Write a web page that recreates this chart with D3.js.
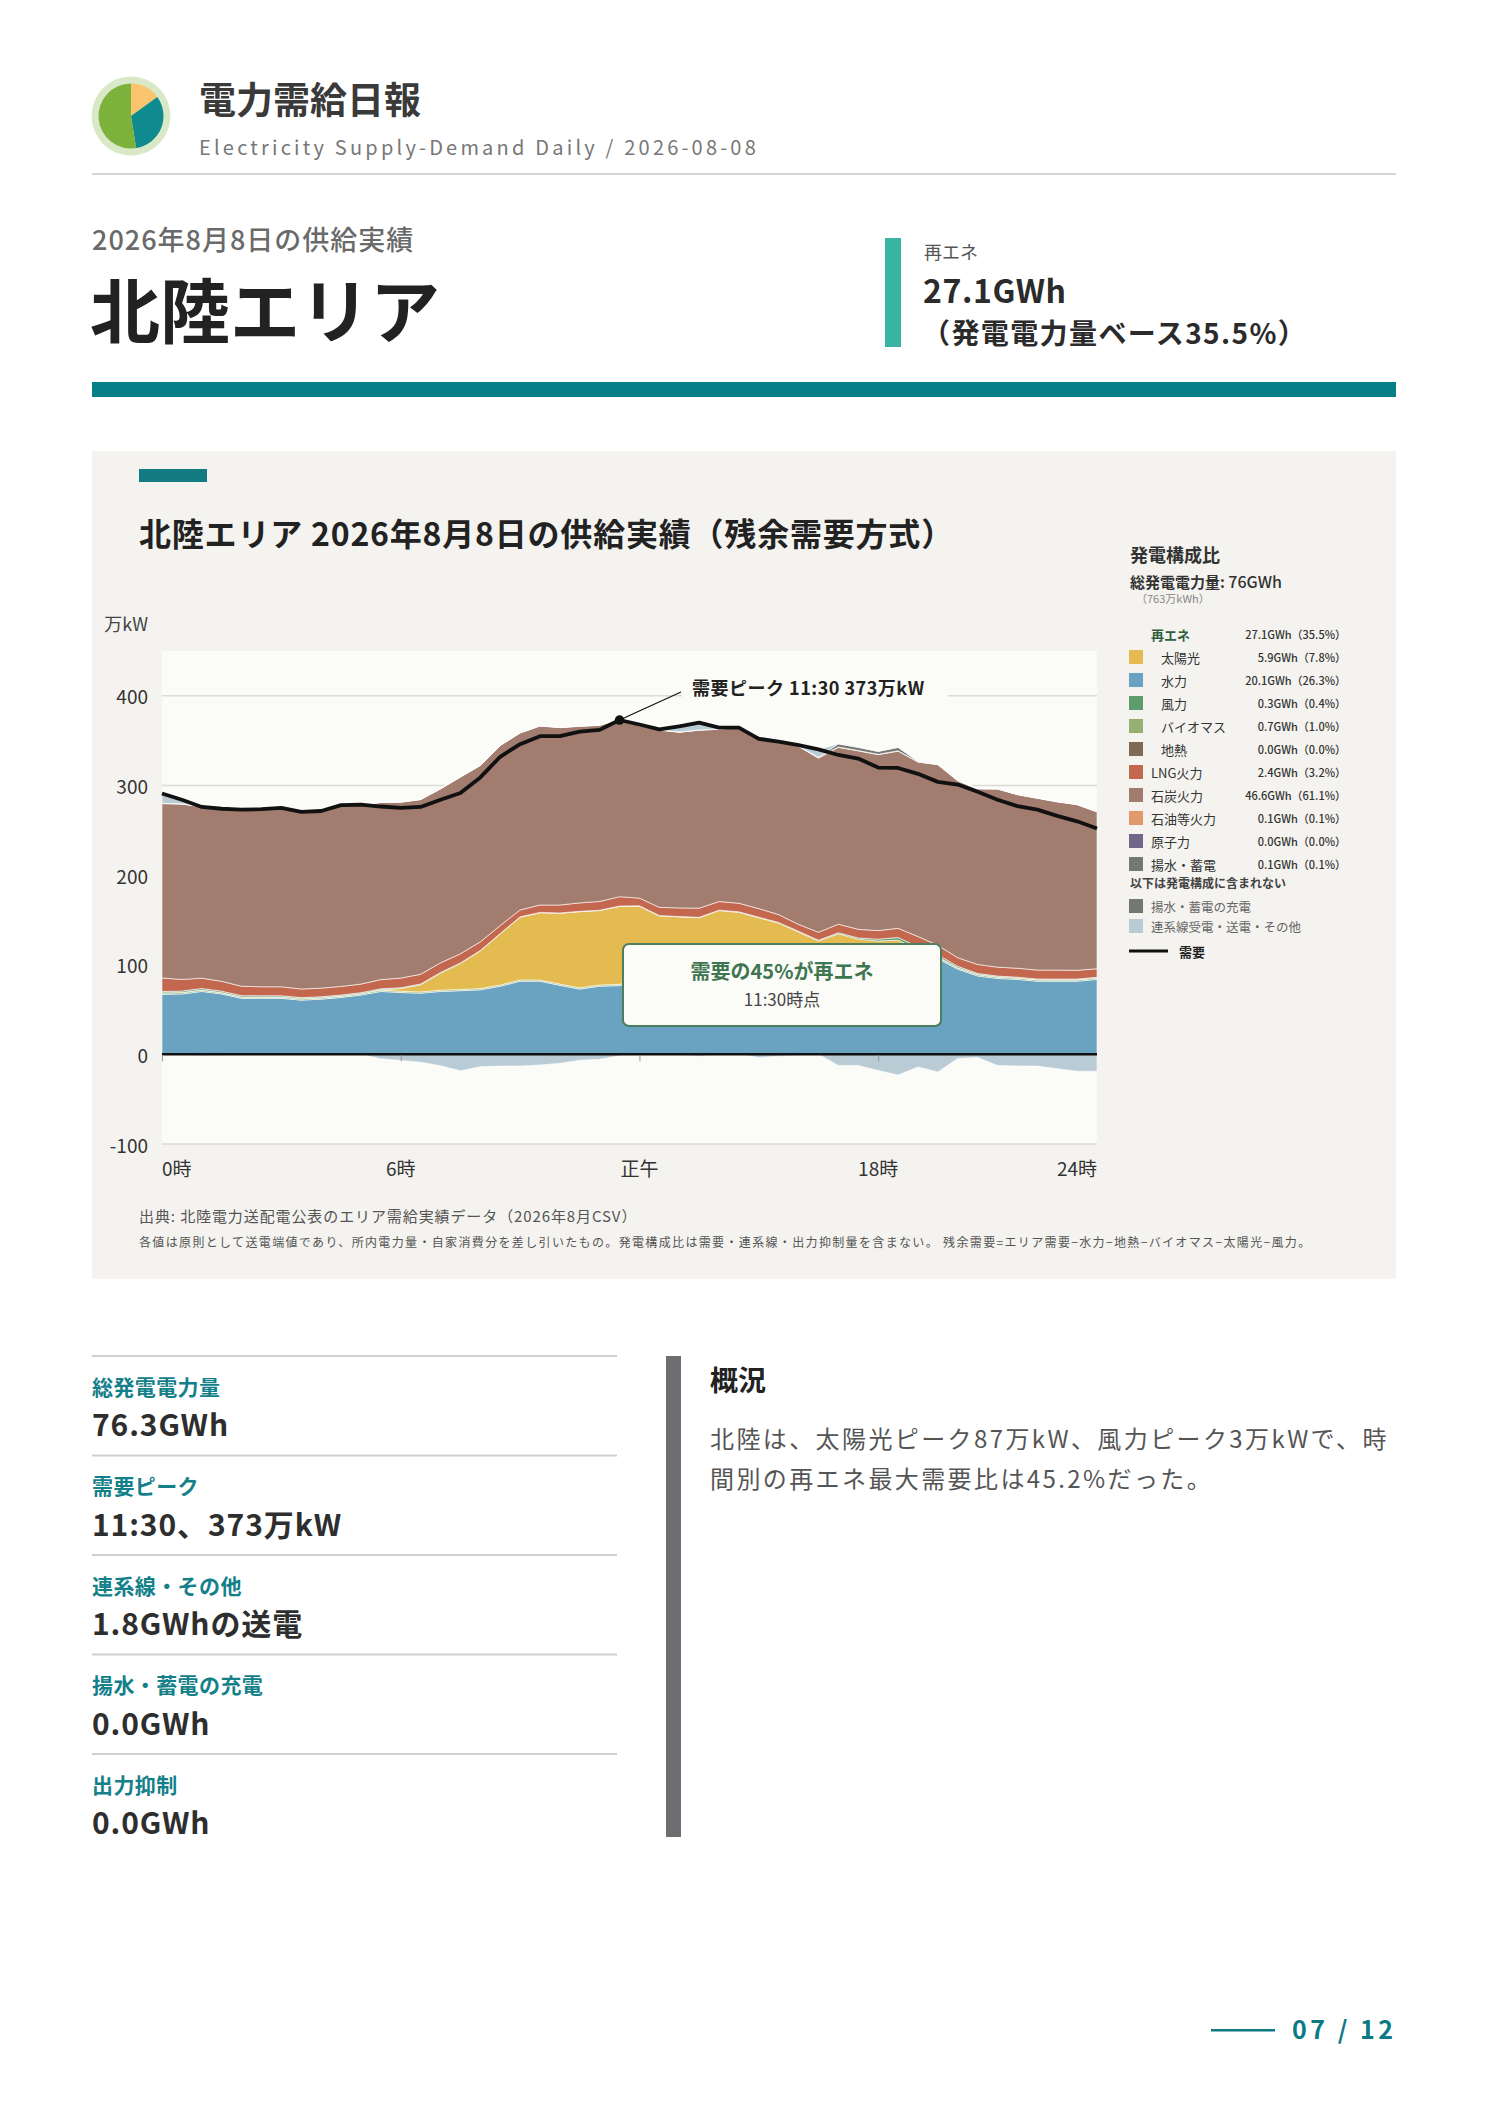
<!DOCTYPE html>
<html lang="ja"><head><meta charset="utf-8">
<script src="https://cdn.jsdelivr.net/npm/d3@7/dist/d3.min.js"></script>
<style>
html,body{margin:0;padding:0;background:#fff;}
svg{display:block;font-family:'Noto Sans CJK JP','Noto Sans',sans-serif;}
</style></head><body>
<svg id="page" width="1488" height="2105"></svg>
<script>
// ---------- data ----------
const times = ["0:00","0:30","1:00","1:30","2:00","2:30","3:00","3:30","4:00","4:30","5:00","5:30",
"6:00","6:30","7:00","7:30","8:00","8:30","9:00","9:30","10:00","10:30","11:00","11:30",
"12:00","12:30","13:00","13:30","14:00","14:30","15:00","15:30","16:00","16:30","17:00","17:30",
"18:00","18:30","19:00","19:30","20:00","20:30","21:00","21:30","22:00","22:30","23:00","23:30"];
const demand = [291,284,276,274,273,273.5,275,270.5,271.5,278,278.5,276.5,275,276,284,291.5,309,332,346,355,355,360,362,373,368,362.5,366,370,364.5,364.5,352,349,345,340.3,334,330,320,319.5,313,304,301,293,284,277,273,266,260,252];
const hydro = [67,67.4,70.2,67.4,62.5,62.5,62.5,60.5,61.6,63.5,66.2,70.2,69,68.3,70.2,71,72,76,81.6,81.6,77,72.8,76,76.7,82,86,90,94,98,101,103,105,106,107,109,110,114,117,114,107,95,87.5,84.7,83.6,81.6,81.6,81.6,83.6];
const geothermal = [0,0,0,0,0,0,0,0,0,0,0,0,0,0,0,0,0,0,0,0,0,0,0,0,0,0,0,0,0,0,0,0,0,0,0,0,0,0,0,0,0,0,0,0,0,0,0,0];
const biomass = [1.6,1.6,1.6,1.5,1.5,1.5,1.5,1.5,1.5,1.5,1.5,1.5,1.4,1.4,1.4,1.4,1.4,1.4,1.4,1.4,1.4,1.4,1.4,1.4,1.4,1.4,1.4,1.4,1.4,1.4,1.4,1.4,1.5,1.5,1.5,1.5,1.5,1.5,1.5,1.5,1.6,1.6,1.6,1.6,1.6,1.6,1.6,1.6];
const solar = [0,0,0,0,0,0,0,0,0,0,0,0.5,3,8,19,29,42,57,70,75,79,85,83,87,82,67,62,57,61,56,48,40,29,18,24,17,11,9,1.5,0.3,0,0,0,0,0,0,0,0];
const wind = [1.6,1.6,1.7,1.6,1.5,1.4,1.4,1.3,1.2,1.2,1.1,1.0,0.9,0.8,0.7,0.6,0.5,0.5,0.4,0.4,0.4,0.4,0.4,0.4,0.4,0.4,0.4,0.5,0.5,0.6,0.6,0.7,0.8,0.9,1.1,1.4,2.0,2.8,3.0,2.4,1.6,1.2,1.0,0.9,0.9,0.8,0.8,0.8];
const lng = [15,13,11.5,11,10.5,10,10,9.6,9.6,9.6,9.6,10.2,10.8,10.8,10.8,10.2,9.6,8.8,7.7,8.2,8.8,9.4,9.8,10.4,8.5,9.2,9.6,10.2,9.6,9.6,9.6,8.8,7.7,8.8,9.6,9.6,9.6,10.3,11.5,10.5,9.6,10,10,10,10,10,9.8,9.5];
const coal = [194.5,195.6,191.2,192.1,196.6,197.7,199.2,197.2,197.2,201.8,199.7,197.6,196.2,194.9,194,197.1,196.7,200.8,197.4,199.7,197.9,197,196.4,198.1,192.8,197.7,195.9,198.5,192.2,195.8,192.6,194.8,198.5,194.3,197.3,199.1,196.3,197.7,194.6,201.5,197.4,195.9,198.7,193.6,191.6,187.7,184.7,175];
const oil = [0.4,0.4,0.4,0.4,0.4,0.4,0.4,0.4,0.4,0.4,0.4,0.4,0.4,0.4,0.4,0.4,0.4,0.4,0.4,0.4,0.4,0.4,0.4,0.4,0.4,0.4,0.4,0.4,0.4,0.4,0.4,0.4,0.4,0.4,0.4,0.4,0.4,0.4,0.4,0.4,0.4,0.4,0.4,0.4,0.4,0.4,0.4,0.4];
const nuclear = [0,0,0,0,0,0,0,0,0,0,0,0,0,0,0,0,0,0,0,0,0,0,0,0,0,0,0,0,0,0,0,0,0,0,0,0,0,0,0,0,0,0,0,0,0,0,0,0];
const pumpedGen = [0,0,0,0,0,0,0,0,0,0,0,0,0,0,0,0,0,0,0,0,0,0,0,0,0,0,0,0,0,0,0,0,0,0.5,3.5,3.5,3.2,3.8,0.5,0,0,0,0,0,0,0,0,0];
const pumpedCharge = [0,0,0,0,0,0,0,0,0,0,0,0,0,0,0,0,0,0,0,0,0,0,0,0,0,0,0,0,0,0,0,0,0,0,0,0,0,0,0,0,0,0,0,0,0,0,0,0];
const tieIn = [11,5,1,1,0,0,0,0,0,0,0,0,0,0,0,0,0,0,0,0,0,0,0,0,0,0.5,7,10,1,0,0,0,2,8.5,0,0,0,0,0,0,0,0,0,0,0,0,0,0];
const tieOut = [0,-0.5,-1.5,-1,0,0,0,0,0,0,0,-4.9,-6.8,-8.7,-12.6,-18.3,-13.7,-13,-13,-11.8,-10,-6.5,-5.5,-1.5,0,0,-0.5,-2,0,0,-3.5,-2,-1,0,-12.3,-12.3,-18,-23,-14,-19.6,-4.5,-3.5,-12.3,-13,-13,-16,-18.8,-18.8];

// supply layers above zero (bottom to top) and below zero (top to bottom)
const posKeys   = ["hydro","geothermal","biomass","solar","wind","lng","coal","oil","nuclear","pumpedGen","tieIn"];
const posColors = ["#6aa2c1","#7f6a55","#95b070","#e3bb50","#5e9b6d","#c4674f","#a27c6f","#e09a6b","#6f6789","#737873","#b9cbd4"];
const posData   = [hydro,geothermal,biomass,solar,wind,lng,coal,oil,nuclear,pumpedGen,tieIn];
const negKeys   = ["pumpedCharge","tieOut"];
const negColors = ["#737873","#b9cbd4"];
const negData   = [pumpedCharge,tieOut];

const yTicks = [-100,0,100,200,300,400];
const xTickVals = [0,6,12,18,24];
const xTickLabels = ["0時","6時","正午","18時","24時"];

const mixLabels = ["太陽光","水力","風力","バイオマス","地熱","LNG火力","石炭火力","石油等火力","原子力","揚水・蓄電"];
const mixColors = ["#e3bb50","#6aa2c1","#5e9b6d","#95b070","#7f6a55","#c4674f","#a27c6f","#e09a6b","#6f6789","#737873"];
const mixGWh = [5.9,20.1,0.3,0.7,0.0,2.4,46.6,0.1,0.0,0.1];
const mixPct = [7.8,26.3,0.4,1.0,0.0,3.2,61.1,0.1,0.0,0.1];
const mixIsRenew = [true,true,true,true,true,false,false,false,false,false];
const renewGWh = 27.1, renewPct = 35.5;
const excludedLabels = ["揚水・蓄電の充電","連系線受電・送電・その他"];
const excludedColors = ["#737873","#b9cbd4"];
const logoShares = [15,32.5,52.5];
const logoColors = ["#fbc46e","#0f8a8e","#7cb13b"];

const kpiLabels = ["総発電電力量","需要ピーク","連系線・その他","揚水・蓄電の充電","出力抑制"];
const kpiValues = ["76.3GWh","11:30、373万kW","1.8GWhの送電","0.0GWh","0.0GWh"];
const summaryLines = ["北陸は、太陽光ピーク87万kW、風力ピーク3万kWで、時","間別の再エネ最大需要比は45.2%だった。"];
const peakIndex = 23;

// ---------- drawing ----------
const svg = d3.select("#page");
function T(x, y, s, o) {
  o = o || {};
  const t = svg.append("text").attr("x", x).attr("y", y)
    .attr("dominant-baseline", "central")
    .attr("font-size", o.size || 14)
    .attr("font-weight", o.weight || 400)
    .attr("fill", o.fill || "#333")
    .attr("text-anchor", o.anchor || "start")
    .text(s);
  if (o.ls) t.attr("letter-spacing", o.ls);
  return t;
}

// header logo
const logo = svg.append("g").attr("transform", "translate(131,116)");
logo.append("circle").attr("r", 39.5).attr("fill", "#d9e9c8");
const pie = d3.pie().sort(null)(logoShares);
logo.selectAll("path").data(pie).join("path")
  .attr("d", d3.arc().innerRadius(0).outerRadius(32.5))
  .attr("fill", (d, i) => logoColors[i]);

T(199, 98, "電力需給日報", {size: 37, weight: 700, fill: "#3a3a3a"});
T(199, 146, "Electricity Supply-Demand Daily / 2026-08-08", {size: 20, fill: "#777", ls: 3.2});
svg.append("rect").attr("x", 92).attr("y", 173).attr("width", 1304).attr("height", 2).attr("fill", "#d4d4d4");

T(92, 238, "2026年8月8日の供給実績", {size: 27, weight: 500, fill: "#6a6a6a", ls: 1});
T(90, 307, "北陸エリア", {size: 70, weight: 700, fill: "#222"});
svg.append("rect").attr("x", 885).attr("y", 238).attr("width", 16).attr("height", 109).attr("fill", "#39b4a3");
T(924, 250.5, "再エネ", {size: 18, fill: "#555"});
T(923, 288.5, "27.1GWh", {size: 32, weight: 700, fill: "#2b2b2b", ls: 0.6});
T(922, 332, "（発電電力量ベース35.5%）", {size: 28, weight: 700, fill: "#2b2b2b", ls: 1.4});
svg.append("rect").attr("x", 92).attr("y", 382).attr("width", 1304).attr("height", 15).attr("fill", "#077f87");

// panel
svg.append("rect").attr("x", 92).attr("y", 451).attr("width", 1304).attr("height", 828).attr("fill", "#f4f3ef");
svg.append("rect").attr("x", 139).attr("y", 469).attr("width", 68).attr("height", 13).attr("fill", "#127c82");
T(139, 532, "北陸エリア 2026年8月8日の供給実績（残余需要方式）", {size: 32, weight: 700, fill: "#222", ls: 0.8});

const x = d3.scaleLinear().domain([0, 23.5]).range([162, 1097]);
const y = d3.scaleLinear().domain([-100, 450]).range([1144, 651]);
const hourOf = s => { const [h, m] = s.split(":").map(Number); return h + m / 60; };
const rows = times.map((s, i) => {
  const r = {t: hourOf(s)};
  posKeys.forEach((k, j) => r[k] = posData[j][i]);
  negKeys.forEach((k, j) => r[k] = negData[j][i]);
  return r;
});

const plot = svg.append("g");
plot.append("rect").attr("x", x.range()[0]).attr("y", y.range()[1])
  .attr("width", x.range()[1] - x.range()[0]).attr("height", y.range()[0] - y.range()[1]).attr("fill", "#fbfbf7");
svg.append("clipPath").attr("id", "clip").append("rect")
  .attr("x", x.range()[0]).attr("y", y.range()[1])
  .attr("width", x.range()[1] - x.range()[0]).attr("height", y.range()[0] - y.range()[1]);

plot.selectAll("line.grid").data(yTicks).join("line").attr("class", "grid")
  .attr("x1", x.range()[0]).attr("x2", x.range()[1])
  .attr("y1", d => y(d)).attr("y2", d => y(d))
  .attr("stroke", "#dcdcd7").attr("stroke-width", 1.5);

T(148, 623, "万kW", {size: 18, fill: "#444", anchor: "end"});
svg.selectAll("text.ylab").data(yTicks).join("text").attr("class", "ylab")
  .attr("x", 148).attr("y", d => y(d)).attr("dominant-baseline", "central")
  .attr("text-anchor", "end").attr("font-size", 19).attr("fill", "#333").text(d => d);

const posStack = d3.stack().keys(posKeys).value((d, k) => d[k])(rows);
const negStack = d3.stack().keys(negKeys).value((d, k) => d[k])(rows);
const area = d3.area().x(d => x(d.data.t)).y0(d => y(d[0])).y1(d => y(d[1]));
const areas = plot.append("g").attr("clip-path", "url(#clip)");
function drawStack(st, colors, dataArr) {
  areas.append("g").selectAll("path").data(st).join("path")
    .attr("d", area)
    .attr("fill", (d, i) => colors[i])
    .attr("stroke", (d, i) => d3.max(dataArr[i], v => Math.abs(v)) > 0 ? "#ffffff" : "none")
    .attr("stroke-width", 0.8).attr("stroke-opacity", 0.75).attr("stroke-linejoin", "round");
}
drawStack(posStack, posColors, posData);
drawStack(negStack, negColors, negData);

// zero line and ticks
plot.append("line").attr("x1", x.range()[0]).attr("x2", x.range()[1]).attr("y1", y(0)).attr("y2", y(0))
  .attr("stroke", "#111").attr("stroke-width", 2.5);
const xAxis = d3.axisBottom(x).tickValues(xTickVals.filter(v => v <= 23.5)).tickSize(6).tickFormat("");
const xg = plot.append("g").attr("transform", `translate(0,${y(0) + 1})`).call(xAxis);
xg.select(".domain").remove();
xg.selectAll("line").attr("stroke", "#999");

svg.selectAll("text.xlab").data(xTickVals).join("text").attr("class", "xlab")
  .attr("x", (d, i) => Math.min(x(d), x.range()[1]))
  .attr("y", 1167).attr("dominant-baseline", "central")
  .attr("text-anchor", (d, i) => i === 0 ? "start" : (i === xTickVals.length - 1 ? "end" : "middle"))
  .attr("font-size", 19).attr("fill", "#333").text((d, i) => xTickLabels[i]);

// demand line
const line = d3.line().x(d => x(d.t)).y(d => y(d.v));
const demandPts = times.map((s, i) => ({t: hourOf(s), v: demand[i]}));
plot.append("path").attr("d", line(demandPts)).attr("fill", "none")
  .attr("stroke", "#111").attr("stroke-width", 3.8).attr("stroke-linejoin", "round");

// peak annotation
const px = x(hourOf(times[peakIndex])), py = y(demand[peakIndex]);
plot.append("rect").attr("x", 682).attr("y", 674).attr("width", 266).attr("height", 26).attr("fill", "#fbfbf7");
plot.append("line").attr("x1", px).attr("y1", py).attr("x2", 681).attr("y2", 692)
  .attr("stroke", "#111").attr("stroke-width", 1.2);
plot.append("circle").attr("cx", px).attr("cy", py).attr("r", 4.8).attr("fill", "#111");
T(692, 687, `需要ピーク ${times[peakIndex]} ${demand[peakIndex]}万kW`, {size: 18, weight: 700, fill: "#222", ls: 0.5});

// renewable share box
plot.append("rect").attr("x", 623).attr("y", 944).attr("width", 318).attr("height", 82).attr("rx", 6)
  .attr("fill", "#fbfbf7").attr("stroke", "#4d7e5d").attr("stroke-width", 2);
T(782, 970, "需要の45%が再エネ", {size: 20, weight: 700, fill: "#3f7652", anchor: "middle"});
T(782, 998, "11:30時点", {size: 17, fill: "#444", anchor: "middle"});

// footnotes
T(139, 1215, "出典: 北陸電力送配電公表のエリア需給実績データ（2026年8月CSV）", {size: 15, fill: "#555", ls: 0.9});
T(139, 1241, "各値は原則として送電端値であり、所内電力量・自家消費分を差し引いたもの。発電構成比は需要・連系線・出力抑制量を含まない。 残余需要=エリア需要−水力−地熱−バイオマス−太陽光−風力。", {size: 12, fill: "#555", ls: 1.35});

// legend
T(1130, 554, "発電構成比", {size: 18, weight: 700, fill: "#333"});
const tl = T(1130, 581, "", {size: 15, weight: 700, fill: "#333"});
tl.append("tspan").text("総発電電力量: ");
tl.append("tspan").attr("font-size", 16).attr("font-weight", 500).text("76GWh");
T(1136, 598, "（763万kWh）", {size: 11, fill: "#888"});
const fmt = d3.format(".1f");
const rowY0 = 634, rowH = 23;
T(1151, rowY0, "再エネ", {size: 13, weight: 700, fill: "#2f5e3f"});
T(1346, rowY0, `${fmt(renewGWh)}GWh（${fmt(renewPct)}%）`, {size: 11, weight: 500, fill: "#333", anchor: "end"});
mixLabels.forEach((lab, i) => {
  const yy = rowY0 + rowH * (i + 1);
  svg.append("rect").attr("x", 1129).attr("y", yy - 7).attr("width", 14).attr("height", 14).attr("fill", mixColors[i]);
  T(mixIsRenew[i] ? 1161 : 1151, yy, lab, {size: 13, fill: "#333"});
  T(1346, yy, `${fmt(mixGWh[i])}GWh（${fmt(mixPct[i])}%）`, {size: 11, weight: 500, fill: "#333", anchor: "end"});
});
T(1130, 882, "以下は発電構成に含まれない", {size: 12, weight: 700, fill: "#444"});
excludedLabels.forEach((lab, i) => {
  const yy = 906 + 20 * i;
  svg.append("rect").attr("x", 1129).attr("y", yy - 7).attr("width", 14).attr("height", 14).attr("fill", excludedColors[i]);
  T(1151, yy, lab, {size: 12.5, fill: "#666"});
});
svg.append("line").attr("x1", 1129).attr("x2", 1168).attr("y1", 951).attr("y2", 951).attr("stroke", "#111").attr("stroke-width", 3);
T(1179, 951, "需要", {size: 13, weight: 700, fill: "#222"});

// KPI column
kpiLabels.forEach((lab, i) => {
  const ly = 1356 + 99.5 * i;
  svg.append("rect").attr("x", 92).attr("y", ly - 1).attr("width", 525).attr("height", 2).attr("fill", "#cfcfcf");
  T(92, ly + 29.5, lab, {size: 21, weight: 700, fill: "#14808a", ls: 0.4});
  T(92, ly + 67, kpiValues[i], {size: 30, weight: 700, fill: "#2e2e2e", ls: 0.9});
});

// summary
svg.append("rect").attr("x", 666).attr("y", 1356).attr("width", 15).attr("height", 481).attr("fill", "#6e6e72");
T(710, 1379, "概況", {size: 28, weight: 700, fill: "#222"});
summaryLines.forEach((s, i) => T(710, 1437 + 40 * i, s, {size: 24, fill: "#555", ls: 2.4}));

// footer
svg.append("rect").attr("x", 1211).attr("y", 2029).attr("width", 64).attr("height", 2.5).attr("fill", "#0b7a83");
T(1292, 2028, "07 / 12", {size: 25, weight: 700, fill: "#0b7a83", ls: 3.5});
</script>
</body></html>
